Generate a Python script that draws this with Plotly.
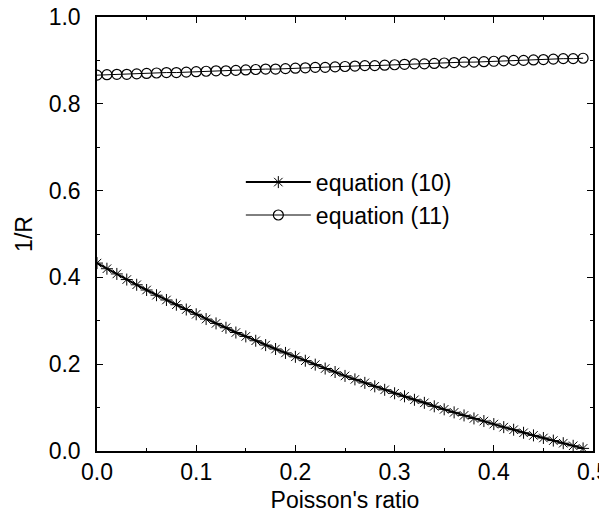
import plotly.graph_objects as go

nu = [round(0.01 * i, 2) for i in range(50)]
eq10 = [0.433, 0.420, 0.408, 0.395, 0.383, 0.371, 0.359, 0.348, 0.337, 0.326,
        0.315, 0.304, 0.294, 0.284, 0.273, 0.264, 0.254, 0.244, 0.235, 0.226,
        0.217, 0.208, 0.199, 0.190, 0.182, 0.173, 0.165, 0.157, 0.149, 0.141,
        0.133, 0.126, 0.118, 0.111, 0.103, 0.096, 0.089, 0.082, 0.075, 0.069,
        0.062, 0.055, 0.049, 0.042, 0.036, 0.030, 0.024, 0.018, 0.012, 0.006]
eq11 = [0.866, 0.867, 0.868, 0.868, 0.869, 0.870, 0.871, 0.872, 0.872, 0.873,
        0.874, 0.875, 0.876, 0.876, 0.877, 0.878, 0.879, 0.880, 0.880, 0.881,
        0.882, 0.883, 0.884, 0.884, 0.885, 0.886, 0.887, 0.888, 0.888, 0.889,
        0.890, 0.891, 0.892, 0.892, 0.893, 0.894, 0.895, 0.896, 0.896, 0.897,
        0.898, 0.899, 0.900, 0.900, 0.901, 0.902, 0.903, 0.904, 0.904, 0.905]

FONT = "Liberation Sans, Arial, sans-serif"
FS = 23

fig = go.Figure()
fig.add_trace(go.Scatter(
    x=nu, y=eq10, mode="lines+markers", name="equation (10)",
    line=dict(color="black", width=2),
    marker=dict(symbol="asterisk-open", size=10, color="black",
                line=dict(color="black", width=1))))
fig.add_trace(go.Scatter(
    x=nu, y=eq11, mode="lines+markers", name="equation (11)",
    line=dict(color="black", width=1),
    marker=dict(symbol="circle-open", size=10, color="black",
                line=dict(color="black", width=1.2))))

axis_common = dict(
    showgrid=False, zeroline=False, showline=True, linecolor="black",
    linewidth=1.5, mirror="allticks", ticks="inside", ticklen=6,
    tickcolor="black", automargin=False, ticklabeloverflow="allow",
    tickfont=dict(family=FONT, size=FS, color="black"),
)
fig.update_xaxes(range=[0, 0.5], dtick=0.1, tickformat=".1f",
                 minor=dict(dtick=0.05, ticks="inside", ticklen=3,
                            tickcolor="black"),
                 title=dict(text="Poisson's ratio", standoff=16,
                            font=dict(family=FONT, size=FS, color="black")),
                 **axis_common)
fig.update_yaxes(range=[0, 1.0], dtick=0.2, tickformat=".1f",
                 ticklabelstandoff=10,
                 minor=dict(dtick=0.1, ticks="inside", ticklen=3,
                            tickcolor="black"),
                 title=dict(text="1/R", standoff=10,
                            font=dict(family=FONT, size=FS, color="black")),
                 **axis_common)

# page body has an 8px default margin; compensate so the plot lands where
# the reference has it (plot area x 97..593, y 17..451 in the window)
fig.update_layout(
    width=599, height=505,
    margin=dict(l=89, r=14, t=9, b=62),
    plot_bgcolor="white", paper_bgcolor="white",
    font=dict(family=FONT, size=FS, color="black"),
    legend=dict(x=0.29, y=0.669, xanchor="left", yanchor="top",
                bgcolor="rgba(0,0,0,0)", borderwidth=0,
                font=dict(family=FONT, size=FS, color="black"),
                itemwidth=65, tracegroupgap=0),
    showlegend=True,
)

fig.write_html("out.html")
